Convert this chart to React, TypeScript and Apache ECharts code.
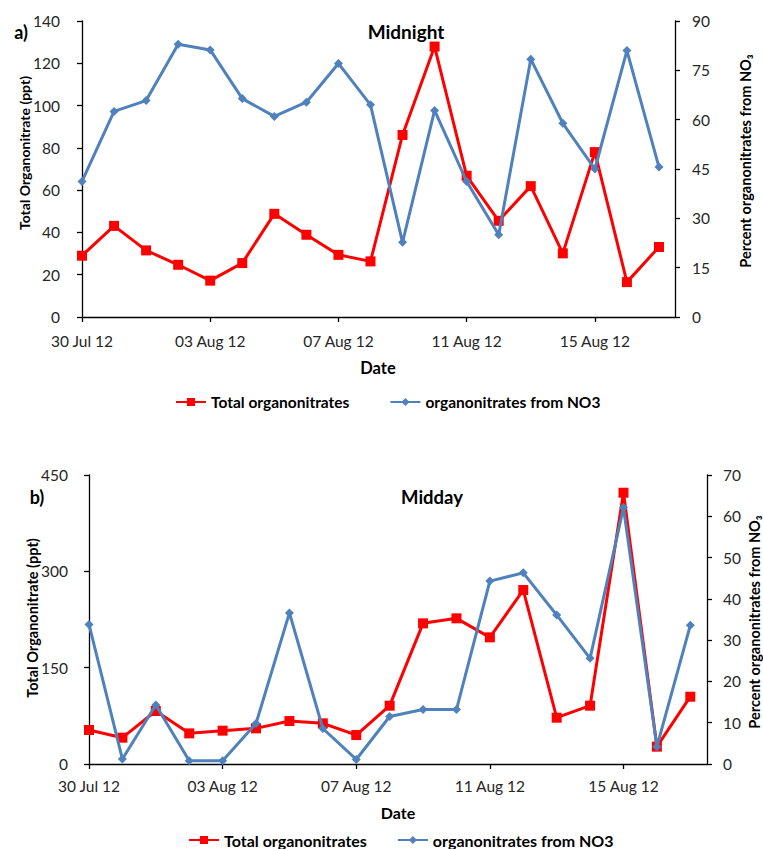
import React, { useEffect, useRef } from "react";
import * as echarts from "echarts";

const dates = [
  "2012-07-30", "2012-07-31", "2012-08-01", "2012-08-02", "2012-08-03",
  "2012-08-04", "2012-08-05", "2012-08-06", "2012-08-07", "2012-08-08",
  "2012-08-09", "2012-08-10", "2012-08-11", "2012-08-12", "2012-08-13",
  "2012-08-14", "2012-08-15", "2012-08-16", "2012-08-17",
];
const tickLabels = ["30 Jul 12", "03 Aug 12", "07 Aug 12", "11 Aug 12", "15 Aug 12"];

// Panel a) Midnight
const midnightTotal = [29.0, 43.1, 31.5, 24.7, 17.2, 25.5, 48.8, 38.9, 29.4, 26.3, 86.1, 127.9, 66.8, 45.5, 61.9, 30.1, 78.0, 16.5, 33.1];
const midnightPctNO3 = [41.2, 62.5, 65.8, 82.9, 81.2, 66.4, 61.0, 65.3, 77.1, 64.5, 22.7, 62.8, 41.2, 25.0, 78.4, 58.9, 45.0, 81.0, 45.6];

// Panel b) Midday
const middayTotal = [52.9, 41.0, 82.5, 47.7, 51.9, 55.5, 66.9, 63.3, 45.1, 90.8, 219.0, 226.8, 197.2, 270.9, 72.1, 90.8, 422.4, 27.0, 104.8];
const middayPctNO3 = [33.8, 1.2, 14.3, 0.8, 0.8, 9.8, 36.6, 8.6, 1.1, 11.5, 13.2, 13.2, 44.3, 46.3, 36.1, 25.6, 62.1, 4.2, 33.6];

const SERIES_TOTAL = "Total organonitrates";
const SERIES_NO3 = "organonitrates from NO3";

const RED = "#FF0000";
const BLUE = "#4F81BD";
const TXT = "#262626";
const FONT = "Lato, 'Open Sans', sans-serif";

const day0 = Date.UTC(2012, 6, 30);
const toDay = (s: string) => {
  const [y, m, d] = s.split("-").map(Number);
  return Math.round((Date.UTC(y, m - 1, d) - day0) / 86400000);
};
const pairs = (vals: number[]) => vals.map((v, i) => [toDay(dates[i]), v]);

export default function App() {
  const ref = useRef<HTMLDivElement>(null);
  useEffect(() => {
    document.body.style.margin = "0";
    const chart = echarts.init(ref.current!, null, { renderer: "svg" });

    const axisLineStyle = { lineStyle: { color: "#000", width: 1.3 } };
    const tickStyle = { show: true, length: 5, inside: false, lineStyle: { color: "#000", width: 1.3 } };
    const xFormatter = (v: number) => (v % 4 === 0 && tickLabels[v / 4] !== undefined ? tickLabels[v / 4] : "");

    const xAxisBase = (gridIndex: number, margin: number) => ({
      type: "value",
      gridIndex,
      min: 0,
      max: 18.5,
      interval: 4,
      axisLine: { show: true, ...axisLineStyle },
      axisTick: tickStyle,
      splitLine: { show: false },
      axisLabel: { formatter: xFormatter, color: TXT, fontSize: 15.5, fontFamily: FONT, margin, showMaxLabel: false },
    });
    const yAxisBase = (gridIndex: number, position: string, max: number, interval: number, margin: number) => ({
      type: "value",
      gridIndex,
      position,
      min: 0,
      max,
      interval,
      axisLine: { show: true, ...axisLineStyle },
      axisTick: tickStyle,
      splitLine: { show: false },
      axisLabel: { color: TXT, fontSize: 15.5, fontFamily: FONT, margin },
    });

    const lineTotal = (xi: number, yi: number, vals: number[]) => ({
      name: SERIES_TOTAL,
      type: "line",
      xAxisIndex: xi,
      yAxisIndex: yi,
      data: pairs(vals),
      symbol: "rect",
      symbolSize: 10,
      itemStyle: { color: RED },
      lineStyle: { color: RED, width: 3 },
      z: 2,
    });
    const lineNO3 = (xi: number, yi: number, vals: number[]) => ({
      name: SERIES_NO3,
      type: "line",
      xAxisIndex: xi,
      yAxisIndex: yi,
      data: pairs(vals),
      symbol: "diamond",
      symbolSize: 9,
      itemStyle: { color: BLUE },
      lineStyle: { color: BLUE, width: 3 },
      z: 3,
    });

    const legendBase = (left: number, top: number, gap: number, size: number) => ({
      left,
      top,
      itemWidth: 30,
      itemHeight: 10,
      itemGap: gap,
      textStyle: { color: "#000", fontSize: size, fontWeight: "bold", fontFamily: FONT },
      data: [SERIES_TOTAL, SERIES_NO3],
    });

    const txt = (x: number, y: number, text: string, size: number, rotation = 0, align = "center") => ({
      type: "text",
      x,
      y,
      rotation,
      style: {
        text,
        fill: "#000",
        font: `bold ${size}px ${FONT}`,
        textAlign: align,
        textVerticalAlign: "middle",
      },
    });

    chart.setOption({
      animation: false,
      backgroundColor: "#fff",
      grid: [
        { left: 82, top: 21, width: 593, height: 296 },
        { left: 89, top: 475, width: 618, height: 289 },
      ],
      xAxis: [xAxisBase(0, 16), xAxisBase(1, 14)],
      yAxis: [
        yAxisBase(0, "left", 140, 20, 22),
        yAxisBase(0, "right", 90, 15, 17),
        yAxisBase(1, "left", 450, 150, 21),
        yAxisBase(1, "right", 70, 10, 16),
      ],
      legend: [legendBase(170, 389, 40, 15.5), legendBase(183, 827, 30, 16)],
      series: [
        lineNO3(0, 1, midnightPctNO3),
        lineTotal(0, 0, midnightTotal),
        lineTotal(1, 2, middayTotal),
        lineNO3(1, 3, middayPctNO3),
      ],
      graphic: [
        txt(21, 32, "a)", 18),
        txt(406, 31, "Midnight", 19),
        txt(24, 153, "Total Organonitrate (ppt)", 14, Math.PI / 2),
        txt(745, 161, "Percent organonitrates from NO₃", 14.5, Math.PI / 2),
        txt(378, 368, "Date", 16.5),
        txt(37, 497, "b)", 18),
        txt(432, 497, "Midday", 18.5),
        txt(32, 618, "Total Organonitrate (ppt)", 14.5, Math.PI / 2),
        txt(754, 622, "Percent organonitrates from NO₃", 14.5, Math.PI / 2),
        txt(398, 812, "Date", 16),
      ],
    });
    return () => chart.dispose();
  }, []);
  return <div ref={ref} style={{ position: "fixed", left: 0, top: 0, width: 763, height: 849 }} />;
}
